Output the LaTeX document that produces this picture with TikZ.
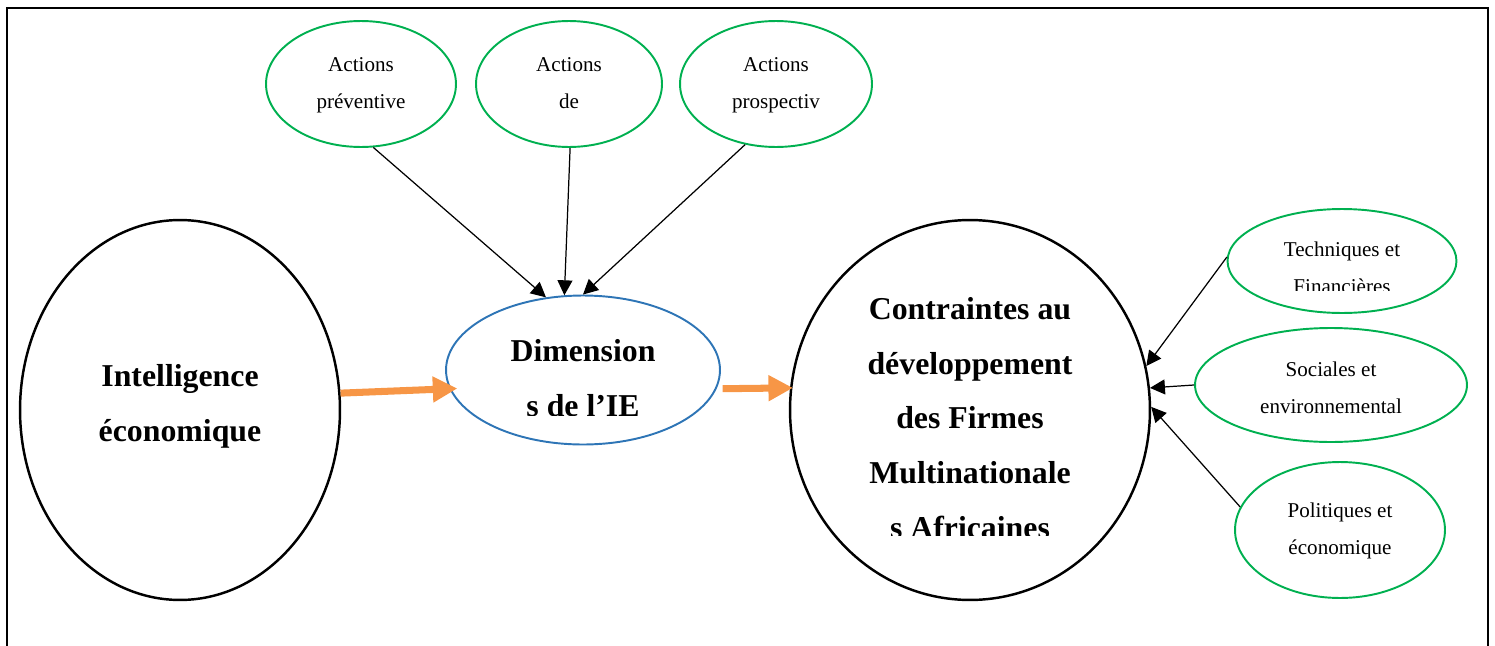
\documentclass[tikz,border=0pt]{standalone}
\usepackage{fontspec}
\setmainfont{Liberation Serif}
\usetikzlibrary{shapes.geometric,arrows.meta}

\definecolor{ieGreen}{RGB}{0,176,80}
\definecolor{ieBlue}{RGB}{46,117,182}
\definecolor{ieOrange}{RGB}{247,150,70}

\begin{document}
\begin{tikzpicture}[x=0.02cm, y=-0.02cm,
        bigoval/.style={draw, ellipse, line width=1.4pt, inner sep=0pt},
        smalloval/.style={draw=ieGreen, ellipse, line width=1.1pt, inner sep=0pt},
        biglabel/.style={align=center, inner sep=0pt, font=\fontsize{18.1}{31.2}\selectfont\bfseries},
        smalllabel/.style={align=center, inner sep=0pt, font=\fontsize{12}{21}\selectfont},
        link/.style={-{Triangle[length=8.5pt, width=8.5pt]}, line width=0.7pt},
        flow/.style={-{Triangle[length=14pt, width=14pt]}, color=ieOrange, line width=4pt}]
        \useasboundingbox (0, 0) rectangle (1495, 646);

        % Frame
        \draw[line width=1.3pt] (7, 646) -- (7, 8) -- (1488, 8) -- (1488, 646);

        % Main ovals
        \node[bigoval, minimum width=6.4cm, minimum height=7.6cm] (ie) at (180, 410) {};
        \node[bigoval, draw=ieBlue, line width=1.1pt, minimum width=5.48cm, minimum height=2.98cm] (dim) at (583, 370) {};
        \node[bigoval, minimum width=7.2cm, minimum height=7.6cm] (cfma) at (970, 410) {};

        \node[biglabel] (ieText) at (180, 406) {Intelligence\\économique};
        \begin{scope}
            \clip (446, 300) rectangle (720, 415);
            \node[biglabel] (dimText) at (583, 378) {Dimension\\s de l’IE};
        \end{scope}
        \begin{scope}
            \clip (790, 230) rectangle (1150, 535);
            \node[biglabel] (cfmaText) at (970, 418) {Contraintes au\\développement\\des Firmes\\Multinationale\\s Africaines};
        \end{scope}

        % Actions
        \node[smalloval, minimum width=3.8cm, minimum height=2.52cm] (actPrev) at (361, 84) {};
        \node[smalloval, minimum width=3.72cm, minimum height=2.52cm] (actDe) at (569, 84) {};
        \node[smalloval, minimum width=3.84cm, minimum height=2.52cm] (actProsp) at (776, 84) {};
        \node[smalllabel] (actPrevText) at (361, 85) {Actions\\préventive};
        \node[smalllabel] (actDeText) at (569, 83) {Actions\\de};
        \node[smalllabel] (actProspText) at (776, 85) {Actions\\prospectiv};

        % Contraintes
        \node[smalloval, minimum width=4.58cm, minimum height=2.08cm] (tech) at (1342, 261) {};
        \node[smalloval, minimum width=5.44cm, minimum height=2.28cm] (soc) at (1331, 385) {};
        \node[smalloval, minimum width=4.2cm, minimum height=2.72cm] (pol) at (1340, 530) {};
        \begin{scope}
            \clip (1228, 215) rectangle (1457, 290);
            \node[smalllabel] (techText) at (1342, 268) {Techniques et\\Financières};
        \end{scope}
        \node[smalllabel] (socText) at (1331, 388) {Sociales et\\environnemental};
        \node[smalllabel] (polText) at (1340, 531) {Politiques et\\économique};

        % Connections
        \draw[link] (actPrev.-79) -- (dim.117);
        \draw[link] (actDe.-89) -- (dim.104);
        \draw[link] (actProsp.-117) -- (dim.90);
        \draw[link] (tech.178) -- (cfma.14);
        \draw[link] (soc.180) -- (cfma.7);
        \draw[link] (pol.167) -- (cfma.1);
        \draw[flow, shorten >=-0.16cm] (ie.6) -- (dim.188);
        \draw[flow, shorten <=0.12cm, shorten >=-0.06cm] (dim.352) -- (cfma.173);
    \end{tikzpicture}
\end{document}
